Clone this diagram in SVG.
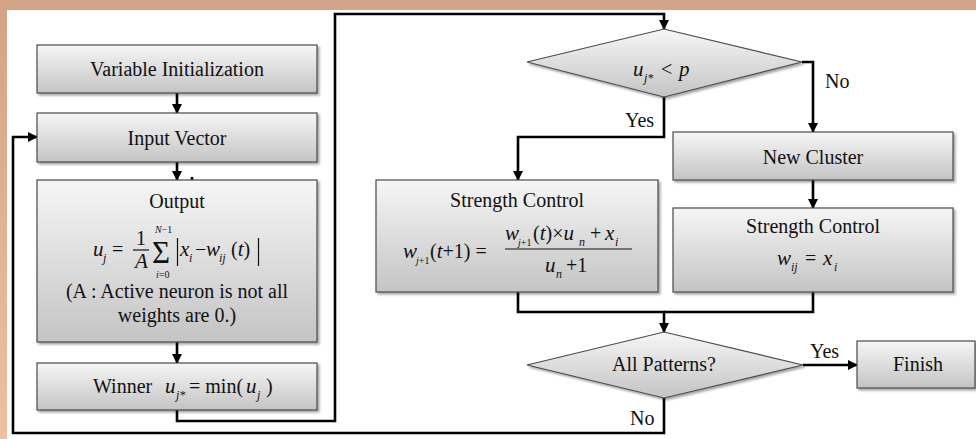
<svg xmlns="http://www.w3.org/2000/svg" width="976" height="439" viewBox="0 0 976 439" font-family="'Liberation Serif', 'Times New Roman', Times, 'DejaVu Serif', serif">
<defs>
<linearGradient id="gBox" x1="0" y1="0" x2="0" y2="1">
<stop offset="0" stop-color="#f6f6f6"/>
<stop offset="1" stop-color="#c4c4c4"/>
</linearGradient>
<linearGradient id="gTan" x1="0" y1="0" x2="0" y2="1">
<stop offset="0" stop-color="#d3a386"/>
<stop offset="1" stop-color="#efbf9f"/>
</linearGradient>
<filter id="sh" x="-5%" y="-5%" width="115%" height="125%">
<feDropShadow dx="2" dy="2" stdDeviation="1.2" flood-color="#000" flood-opacity="0.35"/>
</filter>
<marker id="ah" viewBox="0 0 10 10" refX="9" refY="5" markerWidth="4" markerHeight="4" orient="auto" markerUnits="strokeWidth">
<path d="M0,0 L10,5 L0,10 z" fill="#000"/>
</marker>
</defs>
<style>
text{font-family:'Liberation Serif','Times New Roman',Times,'DejaVu Serif',serif}
.t{font-size:20px;fill:#111}
.m{font-size:21px;font-style:italic;fill:#111}
.r{font-style:normal}
.s{font-size:12px}
.xs{font-size:10px}
.c{text-anchor:middle}
.ln{fill:none;stroke:#000;stroke-width:2.6}
.arr{marker-end:url(#ah)}
.bar{stroke:#111;stroke-width:1.2}
.box{fill:url(#gBox);stroke:#4a4a4a;stroke-width:1.2;filter:url(#sh)}
</style>
<rect x="0" y="0" width="976" height="439" fill="#fff"/>
<rect x="0" y="0" width="7" height="439" fill="url(#gTan)"/>
<rect x="0" y="0" width="976" height="10" fill="#d3a487"/>

<g id="connectors">
<path class="ln arr" d="M177,93 V113"/>
<path class="ln arr" d="M177,162 V180"/>
<path class="ln arr" d="M192,177 V191"/>
<path class="ln arr" d="M177,342 V363"/>
<path class="ln arr" d="M177,410 V421 H335 V14 H664 V29"/>
<path class="ln arr" d="M664,97 V137 H518 V180"/>
<path class="ln arr" d="M802,62 H813 V132"/>
<path class="ln arr" d="M813,180 V208"/>
<path class="ln arr" d="M518,292 V312 H664 V332"/>
<path class="ln" d="M813,292 V312 H664"/>
<path class="ln arr" d="M803,365 H857"/>
<path class="ln arr" d="M664,398 V433 H13 V137 H37"/>
<text class="t" x="625" y="127">Yes</text>
<text class="t" x="825" y="88">No</text>
<text class="t" x="810" y="358">Yes</text>
<text class="t" x="630" y="425">No</text>
</g>

<g id="var-init">
<rect class="box" x="37" y="45" width="280" height="48"/>
<text class="t c" x="177" y="76">Variable Initialization</text>
</g>

<g id="input-vector">
<rect class="box" x="37" y="113" width="280" height="49"/>
<text class="t c" x="177" y="145">Input Vector</text>
</g>

<g id="output">
<rect class="box" x="37" y="180" width="280" height="162"/>
<text class="t c" x="177" y="208">Output</text>
<text class="m" x="93" y="256">u</text>
<text class="m s" x="103" y="262">j</text>
<text class="t" x="112" y="256">=</text>
<text class="t" x="136" y="245">1</text>
<line class="bar" x1="133" y1="250" x2="149" y2="250"/>
<text class="m" x="135" y="268">A</text>
<text class="t" x="152" y="263" style="font-size:31px">Σ</text>
<text class="m xs" x="155" y="233">N<tspan class="r">−1</tspan></text>
<text class="m xs" x="156" y="278">i<tspan class="r">=0</tspan></text>
<line class="bar" x1="177.5" y1="238" x2="177.5" y2="266"/>
<text class="m" x="180" y="256">x</text>
<text class="m s" x="189" y="262">i</text>
<text class="t" x="195" y="256">−</text>
<text class="m" x="206" y="256">w</text>
<text class="m s" x="219" y="262">ij</text>
<text class="t" x="231" y="256">(<tspan class="m">t</tspan>)</text>
<line class="bar" x1="258.5" y1="238" x2="258.5" y2="266"/>
<text class="t c" x="177" y="298">(A : Active neuron is not all</text>
<text class="t c" x="177" y="322">weights are 0.)</text>
</g>

<g id="winner">
<rect class="box" x="37" y="363" width="280" height="47"/>
<text class="t" x="93" y="393">Winner</text>
<text class="m" x="165" y="393">u</text>
<text class="m s" x="176" y="399">j*</text>
<text class="t" x="189" y="393">= min(</text>
<text class="m" x="246" y="393">u</text>
<text class="m s" x="257" y="399">j</text>
<text class="t" x="266" y="393">)</text>
</g>

<g id="decision-p">
<polygon points="527,62 664,29 802,62 664,97" fill="url(#gBox)" stroke="#4a4a4a" stroke-width="1.2" filter="url(#sh)"/>
<text class="m" x="633" y="76">u</text>
<text class="m s" x="644" y="82">j*</text>
<text class="t" x="661" y="76">&lt;</text>
<text class="m" x="679" y="76">p</text>
</g>

<g id="new-cluster">
<rect class="box" x="673" y="132" width="280" height="48"/>
<text class="t c" x="813" y="164">New Cluster</text>
</g>

<g id="strength-left">
<rect class="box" x="376" y="180" width="282" height="112"/>
<text class="t c" x="517" y="207">Strength Control</text>
<text class="m" x="403" y="258">w</text>
<text class="m xs" x="416" y="264">j<tspan class="r">+1</tspan></text>
<text class="t" x="430" y="258">(<tspan class="m">t</tspan>+1) =</text>
<text class="m" x="505" y="240">w</text>
<text class="m xs" x="518" y="246">j<tspan class="r">+1</tspan></text>
<text class="t" x="533" y="240">(<tspan class="m">t</tspan>)×<tspan class="m">u</tspan></text>
<text class="m s" x="579" y="246">n</text>
<text class="t" x="590" y="240">+</text>
<text class="m" x="605" y="240">x</text>
<text class="m s" x="615" y="246">i</text>
<line class="bar" x1="505" y1="249" x2="632" y2="249"/>
<text class="m" x="545" y="272">u</text>
<text class="m s" x="556" y="278">n</text>
<text class="t" x="566" y="272">+1</text>
</g>

<g id="strength-right">
<rect class="box" x="673" y="208" width="280" height="84"/>
<text class="t c" x="813" y="233">Strength Control</text>
<text class="m" x="777" y="265">w</text>
<text class="m s" x="791" y="271">ij</text>
<text class="t" x="805" y="265">=</text>
<text class="m" x="823" y="265">x</text>
<text class="m s" x="834" y="271">i</text>
</g>

<g id="decision-all">
<polygon points="527,365 664,332 803,365 664,398" fill="url(#gBox)" stroke="#4a4a4a" stroke-width="1.2" filter="url(#sh)"/>
<text class="t c" x="664" y="371">All Patterns?</text>
</g>

<g id="finish">
<rect class="box" x="857" y="341" width="118" height="47"/>
<text class="t c" x="918" y="371">Finish</text>
</g>
</svg>
